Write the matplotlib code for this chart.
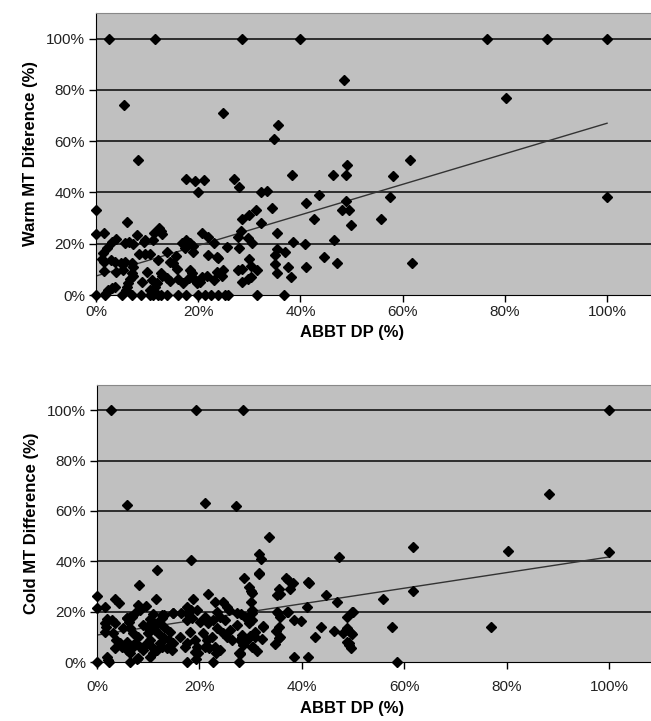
import matplotlib
matplotlib.use('Agg')
import matplotlib.pyplot as plt
import numpy as np

plt.rcParams['font.family'] = ['Liberation Sans', 'DejaVu Sans']

# Warm MT difference vs ABBT DP (valores em %)
warm_x = [2.5, 11.5, 28.6, 40, 76.5, 88.3, 100,
          48.5, 80.2, 5.5, 24.9, 35.6, 34.8, 8.2, 61.4, 49.2, 58.1,
          17.6, 19.4, 21.1, 27, 28, 38.4, 46.4, 48.9, 20, 32.2, 33.4, 43.6,
          0, 34.5, 31.4, 30, 28.6, 41, 42.7, 48.9, 48.1, 49.6, 49.9, 55.7, 57.5, 100, 6, 32.2,
          0, 1.6, 12.3, 12.7, 13, 11.4, 11.2, 8, 9.5, 9.3, 3.1, 4, 5.7, 6.5, 7.3, 28.4, 27.7, 29.8,
          30.5, 35.5, 38.5, 40.9, 46.6, 20.7, 22, 23.1, 16.8, 17.7, 18.3, 19,
          2.2, 1.4, 1.2, 1.6, 3, 3.7, 4.8, 5.7, 7, 7.2, 8.4, 9.6, 10.6, 13.8, 12.2, 14.5, 15, 15.7,
          17.5, 18.9, 25.7, 22, 23.6, 23.9, 28, 35.5, 37, 35, 30, 44.6, 47.1, 35, 37.5, 41.1, 30.3,
          28.5, 27.8, 31.6, 61.8,
          1.6, 3.9, 5.3, 7.1, 7.3, 6.7, 6.3, 6, 5.8, 3.7, 3.1, 2.4, 1.9, 13.8, 14.5, 12.8, 13, 15.9,
          16.1, 17.1, 18.1, 18.4, 18.7, 19, 19.4, 19.7, 20.4, 20.7, 23.6, 24.9, 24.6, 21.7, 23.1,
          35.5, 38.1, 30.3, 29.8, 28.6, 10, 11, 11.5, 12, 10.5, 9,
          0, 1.8, 5.1, 7.1, 8.9, 10.6, 11.2, 12.2, 12.8, 13.8, 16.1, 17.7, 20, 21.3, 22.6, 23.9,
          25.2, 25.9, 31.6, 36.8]
warm_y = [100, 100, 100, 100, 100, 100, 100,
          84, 76.7, 74, 70.8, 66.5, 61, 52.5, 52.6, 50.6, 46.6,
          45.1, 44.4, 44.7, 45.1, 42, 47, 47, 47, 40, 40, 40.5, 39.2,
          33.3, 34.1, 33.3, 31.1, 29.6, 36, 29.7, 36.8, 33.3, 33.3, 27.5, 29.7, 38.1, 38.1, 28.4, 27.9,
          23.6, 24, 26.3, 25, 23.9, 24.2, 21.4, 23.3, 21.4, 20.7, 20.7, 21.7, 20.4, 20.5, 19.8, 24.8, 22.6, 22.3,
          20.1, 24, 20.7, 19.8, 21.4, 24, 22.7, 20.4, 20.1, 21.4, 20.4, 19.1,
          18.5, 16.2, 14, 13, 13.6, 13, 12.6, 13, 12.6, 11, 16, 16, 16, 16.6, 13.6, 13, 12.6, 15.2,
          18.5, 16.9, 18.8, 15.6, 14.9, 14.3, 18.5, 18, 16.7, 15.6, 14, 15, 12.3, 12.1, 11, 10.9, 11.3,
          10.1, 9.7, 9.7, 12.4,
          9.3, 9.1, 9.7, 8.4, 7.4, 6.1, 4.6, 3, 2, 3.2, 2.6, 1.9, 0.9, 6.5, 5.6, 8.4, 7.4, 10,
          6.1, 4.8, 6.5, 9.7, 8.4, 6.5, 5.8, 4.6, 5.2, 6.9, 9.1, 9.7, 7.4, 7.4, 5.8,
          8.4, 6.9, 6.9, 6.1, 4.9, 9, 6, 3, 4.5, 2, 5,
          0, 0, 0, 0, 0, 0, 0, 0, 0, 0, 0, 0, 0, 0, 0, 0,
          0, 0, 0, 0]

# Cold MT difference vs ABBT DP
cold_x = [2.7, 19.3, 28.5, 100,
          88.2, 5.8, 21.1, 27.1, 33.5, 61.8, 80.3, 100, 31.7, 32, 47.3, 18.3, 11.7,
          41.3, 36.9, 37.4, 38.2, 37.7, 35.5, 35.8, 35.1, 31.6, 28.8, 29.7, 30, 30.2, 31.6, 41.4, 8.3, 61.8,
          44.7, 46.8, 41, 55.8, 49.9, 30.1, 30.3, 35.3, 37.4, 3.5, 4.2, 0, 0, 1.6, 11.5, 21.7, 23, 24.7,
          25.3, 25.8, 18.8, 17.6, 17.5, 18.4, 19.5, 8.1, 9.6, 7.6, 8.4, 28.1, 30.2, 35.1, 37.2, 48.8, 50,
          14.8, 16.5, 11, 13, 14.9, 23.4, 27.3,
          57.6, 77, 49.9, 35.8, 38.5, 39.9, 32.4, 35.5, 35.8, 42.6, 43.8, 46.3, 48.1, 48.8, 49.7, 28.9,
          30.2, 29.6, 32.4, 28.3, 29.9, 30.9, 35, 12.6, 10.4, 11.7, 1.6, 2.9, 1.6, 3.2, 5.8, 6.4, 5.1,
          6.4, 7.1, 8.1, 9.7, 10, 11.3, 12, 13, 14.3, 16.2, 18.2, 20.8, 22.4, 24.7, 25.3, 28.3, 30.9,
          1.9, 1.8, 3.5, 5.9, 6.3, 6.8, 9, 11, 12.6, 17.5, 18.5, 20.1, 21.1, 21.7, 22.7, 24, 23.4, 25,
          26, 27.3,
          3.8, 4.5, 3.5, 4.8, 5.8, 6.4, 5.8, 7.4, 8.4, 6.8, 9, 10.4, 9.7, 10.7, 11, 10.4, 11.7, 12.3,
          13, 12.6, 13.6, 14.1, 14.9, 14.6, 17.5, 17.2, 19.1, 19.5, 19.1, 19.8, 21.4, 21.1, 21.8, 23,
          23.3, 24, 26.3, 27.9, 28.6, 29.2, 30.5, 32.3, 34.7, 35.6, 48.8, 49.2, 49.6, 49.3, 28.6, 30.2,
          31.3, 27.7, 27.9, 38.5, 41.2, 1.9, 7.8, 19.3, 2.2, 8.1, 27.9,
          0, 2.4, 6.4, 17.5, 22.7, 27.8, 58.5]
cold_y = [100, 100, 100, 100,
          66.7, 62.3, 63, 61.9, 49.7, 45.8, 44, 43.5, 42.9, 40.8, 41.8, 40.5, 36.5,
          31.7, 33.5, 32.5, 31.2, 28.8, 28.8, 27, 26.6, 35.2, 33.2, 29.6, 28.3, 27.5, 34.9, 31.5, 30.6, 28,
          26.6, 23.9, 21.9, 24.9, 20, 23.9, 20.6, 19.3, 20, 25, 23.3, 26.2, 21.3, 21.7, 24.9, 27, 23.9, 23.9,
          21.7, 20.6, 24.9, 21.9, 19.6, 20.6, 20.6, 22.6, 22.2, 20, 20.6, 18.9, 19.3, 20, 20, 18, 20,
          19.3, 19.3, 19, 18.7, 19.3, 20, 19.3,
          14, 14, 11, 18, 16.7, 16.4, 14.3, 13.8, 10, 10, 13.9, 12.3, 11.6, 13.5, 11.4, 18,
          16.7, 15.6, 14, 10.7, 10.3, 12, 12.4, 17.3, 16.9, 15.6, 15.4, 16.7, 12, 11.4, 17.3, 18, 13.4,
          13.4, 11.4, 10, 14, 11.4, 12.7, 11.4, 14, 12, 10, 12, 11.4, 10, 11.4, 10, 10, 10,
          16.9, 14, 15.4, 17.3, 16, 18, 14.7, 15.4, 18.7, 16.7, 17.3, 16, 18, 15.4, 16.7, 18, 13.4, 16.7,
          12.7, 14.7,
          8.7, 7.4, 5.4, 6.1, 4.8, 3.5, 8, 7.4, 6.1, 5.4, 4.8, 8.7, 7.4, 6.1, 3.5, 2.1, 4.8, 7.4,
          9.4, 6.1, 5.4, 8.7, 7.4, 4.8, 7.4, 6.1, 8.7, 6.1, 4.1, 3.5, 8.7, 6.1, 5.4, 6.1,
          3.5, 4.8, 8.7, 3.5, 7.4, 8.7, 6.1, 9, 7.1, 9.6, 8, 6.7, 5.4, 7.4, 6.7, 5.8,
          4.5, 3.5, 8.7, 1.9, 1.9, 2.1, 1, 1.1, 0.8, 1.5, 3.2,
          0, 0, 0, 0, 0, 0, 0]

# linhas de tendencia (valor em x=0 e x=100)
warm_trend = [7.4, 67.0]
cold_trend = [10.7, 41.7]

# (x, y, tendencia, rotulo, [esquerda, base, topo, xmax], pad dos ticks x, posicao do xlabel)
paineis = [
    (warm_x, warm_y, warm_trend, 'Warm MT Diference (%)', [96, 295, 13, 108.6], 2, -0.105),
    (cold_x, cold_y, cold_trend, 'Cold MT Difference (%)', [97, 662, 385, 108.2], 8, -0.14),
]

W, H = 651, 721
fig = plt.figure(figsize=(W / 100, H / 100), dpi=100)

ticks = [0, 20, 40, 60, 80, 100]
rotulos = [f'{t}%' for t in ticks]

for xs, ys, trend, ylabel, (left, bottom, top, xmax), xpad, ylab_x in paineis:
    ax = fig.add_axes([left / W, 1 - bottom / H, (W - left) / W, (bottom - top) / H])
    ax.set_facecolor('#c0c0c0')
    ax.set_xlim(0, xmax)
    ax.set_ylim(0, 110)

    for t in ticks[1:]:
        ax.axhline(t, color='#222222', lw=1.3, zorder=1)

    ax.plot([0, 100], trend, color='#333333', lw=1.0, zorder=2)
    ax.plot(xs, ys, 'D', color='black', ms=4.6, zorder=3, clip_on=False)

    ax.set_xticks(ticks)
    ax.set_xticklabels(rotulos)
    ax.set_yticks(ticks)
    ax.set_yticklabels(rotulos)
    ax.tick_params(direction='out', length=5, width=1, colors='black',
                   labelsize=11, labelcolor='#222222', pad=3)
    ax.tick_params(axis='x', pad=xpad)

    ax.spines['right'].set_visible(False)
    ax.spines['top'].set_color('#888888')
    ax.spines['left'].set_color('black')
    ax.spines['bottom'].set_color('black')

    ax.set_ylabel(ylabel, fontsize=12, fontweight='bold', labelpad=6)
    ax.set_xlabel('ABBT DP (%)', fontsize=12, fontweight='bold')
    ax.xaxis.set_label_coords((352 - left) / (W - left), ylab_x)

fig.savefig('out.png', dpi=100)
